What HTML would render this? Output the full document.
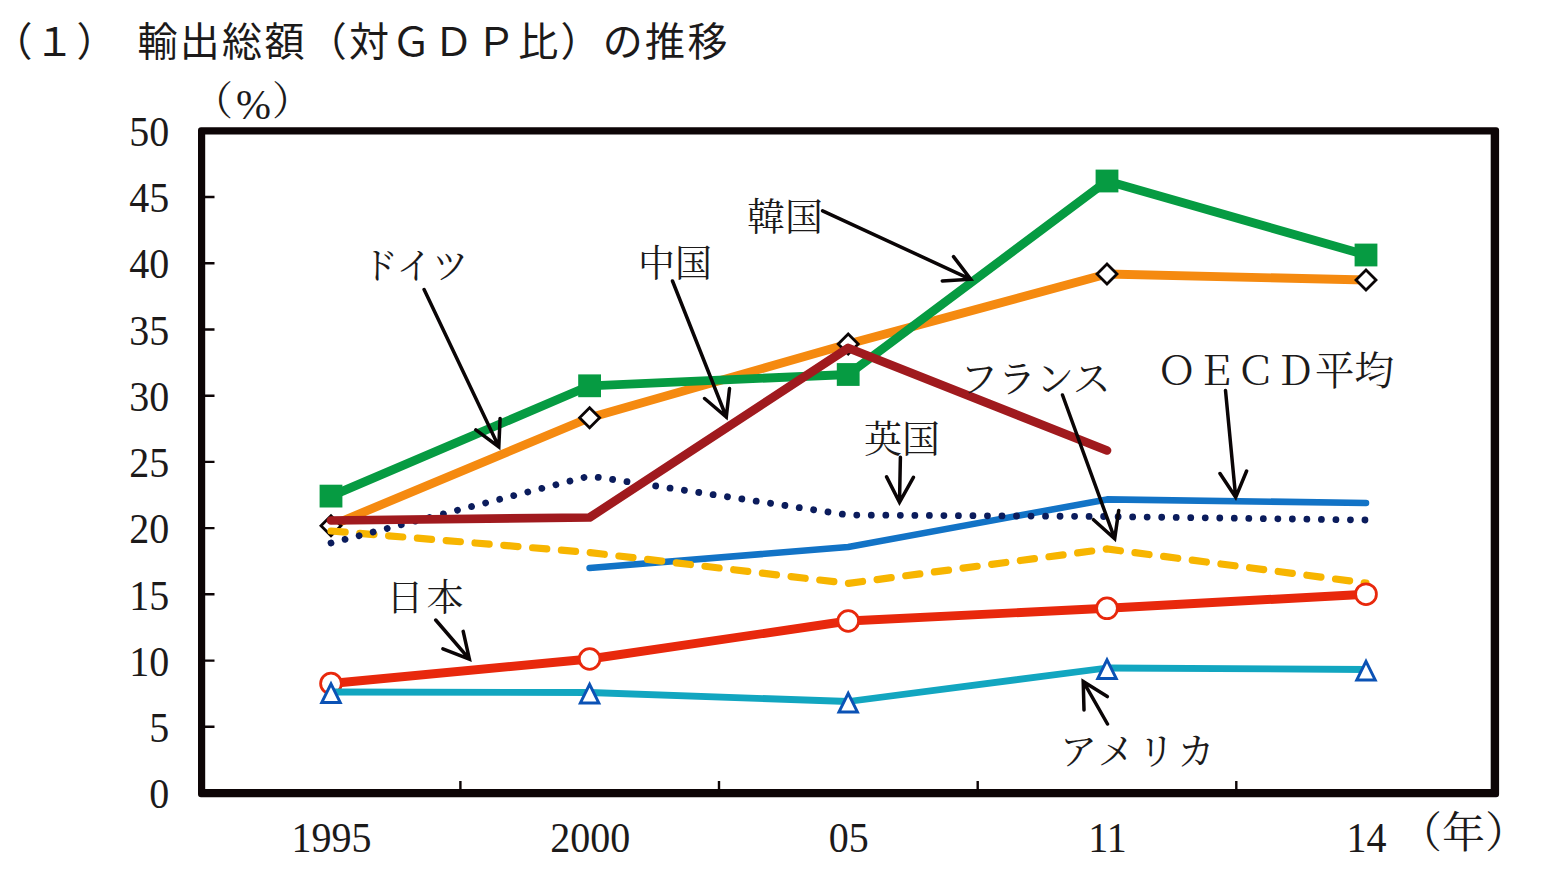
<!DOCTYPE html>
<html lang="ja"><head><meta charset="utf-8"><title>chart</title>
<style>
html,body{margin:0;padding:0;background:#fff;}
body{width:1544px;height:871px;overflow:hidden;}
svg{display:block}
text{font-family:"Liberation Serif",serif;font-size:40px;fill:#1c1a1a;letter-spacing:0}
text.ttl{font-family:"Liberation Sans","Noto Sans CJK JP",sans-serif;font-size:40px;fill:#1c1a1a}
text.lbl{font-family:"Liberation Serif","Noto Serif CJK SC",serif;fill:#1c1a1a}
</style></head><body>
<svg width="1544" height="871" viewBox="0 0 1544 871">
<title>（１）　輸出総額（対ＧＤＰ比）の推移</title>
<desc>輸出総額の対GDP比（％）の推移、1995年・2000年・05年・11年・14年。系列：韓国、ドイツ、中国、英国、OECD平均、フランス、日本、アメリカ。</desc>
<rect width="1544" height="871" fill="#fff"/>
<text class="ttl" x="-7.5" y="56" style="letter-spacing:2px">（１）</text>
<text class="ttl" x="137.5" y="56" style="letter-spacing:2.3px">輸出総額（対ＧＤＰ比）の推移</text>
<g><text transform="translate(169.3 808.2) scale(1 1.07)" text-anchor="end">0</text><text transform="translate(169.3 742.0) scale(1 1.07)" text-anchor="end">5</text><text transform="translate(169.3 675.8) scale(1 1.07)" text-anchor="end">10</text><text transform="translate(169.3 609.5) scale(1 1.07)" text-anchor="end">15</text><text transform="translate(169.3 543.3) scale(1 1.07)" text-anchor="end">20</text><text transform="translate(169.3 477.1) scale(1 1.07)" text-anchor="end">25</text><text transform="translate(169.3 410.9) scale(1 1.07)" text-anchor="end">30</text><text transform="translate(169.3 344.7) scale(1 1.07)" text-anchor="end">35</text><text transform="translate(169.3 278.4) scale(1 1.07)" text-anchor="end">40</text><text transform="translate(169.3 212.2) scale(1 1.07)" text-anchor="end">45</text><text transform="translate(169.3 146.0) scale(1 1.07)" text-anchor="end">50</text><text transform="translate(331.6 851.6) scale(1 1.07)" text-anchor="middle">1995</text><text transform="translate(590.2 851.6) scale(1 1.07)" text-anchor="middle">2000</text><text transform="translate(848.8 851.6) scale(1 1.07)" text-anchor="middle">05</text><text transform="translate(1107.6 851.6) scale(1 1.07)" text-anchor="middle">11</text><text transform="translate(1366.6 851.6) scale(1 1.07)" text-anchor="middle">14</text></g>
<path fill-rule="evenodd" fill="#0d0506" d="M201 127.2H1496.1a3 3 0 0 1 3 3V794.3a3 3 0 0 1 -3 3H201a3 3 0 0 1 -3 -3V130.2a3 3 0 0 1 3 -3ZM205.2 134.4V789H1490.7V134.4Z"/>
<path d="M201.7 726.8H214.5M201.7 660.6H214.5M201.7 594.3H214.5M201.7 528.1H214.5M201.7 461.9H214.5M201.7 395.7H214.5M201.7 329.5H214.5M201.7 263.2H214.5M201.7 197.0H214.5M460.4 793.0V781M719.0 793.0V781M977.7 793.0V781M1236.3 793.0V781" stroke="#0d0506" stroke-width="2.4" fill="none"/>
<path d="M331.0 525.7 L589.6 417.7 L848.2 344.0 L1107.0 274.0 L1366.0 280.0" fill="none" stroke="#f58a10" stroke-width="8.8" stroke-linecap="round" stroke-linejoin="round"/>
<path d="M321.0 525.7L331.0 515.7L341.0 525.7L331.0 535.7Z" fill="#fff" stroke="#0a0506" stroke-width="2.8" stroke-linejoin="miter"/>
<path d="M579.6 417.7L589.6 407.7L599.6 417.7L589.6 427.7Z" fill="#fff" stroke="#0a0506" stroke-width="2.8" stroke-linejoin="miter"/>
<path d="M838.2 344.0L848.2 334.0L858.2 344.0L848.2 354.0Z" fill="#fff" stroke="#0a0506" stroke-width="2.8" stroke-linejoin="miter"/>
<path d="M1097.0 274.0L1107.0 264.0L1117.0 274.0L1107.0 284.0Z" fill="#fff" stroke="#0a0506" stroke-width="2.8" stroke-linejoin="miter"/>
<path d="M1356.0 280.0L1366.0 270.0L1376.0 280.0L1366.0 290.0Z" fill="#fff" stroke="#0a0506" stroke-width="2.8" stroke-linejoin="miter"/>
<path d="M331.0 496.1 L589.6 385.8 L848.2 374.5 L1107.0 181.0 L1366.0 255.0" fill="none" stroke="#069b42" stroke-width="8.8" stroke-linecap="round" stroke-linejoin="round"/>
<rect x="319.6" y="484.7" width="22.8" height="22.8" fill="#069b42"/>
<rect x="578.2" y="374.4" width="22.8" height="22.8" fill="#069b42"/>
<rect x="836.8" y="363.1" width="22.8" height="22.8" fill="#069b42"/>
<rect x="1095.6" y="169.6" width="22.8" height="22.8" fill="#069b42"/>
<rect x="1354.6" y="243.6" width="22.8" height="22.8" fill="#069b42"/>
<path d="M589.6 568.0 L848.2 547.0 L1107.0 499.4 L1366.0 503.0" fill="none" stroke="#1273c6" stroke-width="6.6" stroke-linecap="round" stroke-linejoin="round"/>
<path d="M331.0 531.0 L589.6 552.5 L848.2 583.4 L1107.0 549.0 L1366.0 583.0" fill="none" stroke="#f7b500" stroke-width="7.2" stroke-linecap="round" stroke-dasharray="14.2 14.7"/>
<path d="M331.0 543.0 L589.6 476.0 L848.2 515.0 L1107.0 516.5 L1366.0 520.0" fill="none" stroke="#0b1c5c" stroke-width="6.8" stroke-linecap="round" stroke-dasharray="0.01 14.51"/>
<path d="M331.0 520.5 L589.6 517.5 L848.2 348.0 L1107.0 450.5" fill="none" stroke="#a01a1e" stroke-width="8.7" stroke-linecap="round" stroke-linejoin="round"/>
<path d="M331.0 683.5 L589.6 659.0 L848.2 621.0 L1107.0 608.3 L1366.0 594.2" fill="none" stroke="#e8280c" stroke-width="8.9" stroke-linecap="round" stroke-linejoin="round"/>
<circle cx="331.0" cy="683.5" r="10.4" fill="#fff" stroke="#e8280c" stroke-width="2.8"/>
<circle cx="589.6" cy="659.0" r="10.4" fill="#fff" stroke="#e8280c" stroke-width="2.8"/>
<circle cx="848.2" cy="621.0" r="10.4" fill="#fff" stroke="#e8280c" stroke-width="2.8"/>
<circle cx="1107.0" cy="608.3" r="10.4" fill="#fff" stroke="#e8280c" stroke-width="2.8"/>
<circle cx="1366.0" cy="594.2" r="10.4" fill="#fff" stroke="#e8280c" stroke-width="2.8"/>
<path d="M331.0 692.0 L589.6 692.5 L848.2 701.5 L1107.0 668.0 L1366.0 669.5" fill="none" stroke="#12a6c0" stroke-width="6.8" stroke-linecap="round" stroke-linejoin="round"/>
<path d="M331.0 683.8L340.2 702.4L321.8 702.4Z" fill="#fff" stroke="#0b52b5" stroke-width="3" stroke-linejoin="miter"/>
<path d="M589.6 684.3L598.8 702.9L580.4 702.9Z" fill="#fff" stroke="#0b52b5" stroke-width="3" stroke-linejoin="miter"/>
<path d="M848.2 693.3L857.4 711.9L839.0 711.9Z" fill="#fff" stroke="#0b52b5" stroke-width="3" stroke-linejoin="miter"/>
<path d="M1107.0 659.8L1116.2 678.4L1097.8 678.4Z" fill="#fff" stroke="#0b52b5" stroke-width="3" stroke-linejoin="miter"/>
<path d="M1366.0 661.3L1375.2 679.9L1356.8 679.9Z" fill="#fff" stroke="#0b52b5" stroke-width="3" stroke-linejoin="miter"/>
<path d="M424.1 289.5L498.8 446.8M475.9 429.8L498.8 446.8L500.1 418.4M672.5 281.0L726.3 417.0M704.6 398.5L726.3 417.0L729.5 388.6M822.6 210.8L970.7 279.3M942.3 280.9L970.7 279.3L953.5 256.6M1062.5 395.0L1114.7 538.7M1093.5 519.7L1114.7 538.7L1118.7 510.5M1225.5 390.4L1235.7 497.3M1220.0 473.5L1235.7 497.3L1246.6 471.0M900.4 457.2L899.5 502.3M886.6 476.9L899.5 502.3L913.4 477.4M435.7 620.0L469.4 659.2M442.9 648.8L469.4 659.2L463.2 631.4M1107.5 724.0L1083.2 681.4M1107.3 696.6L1083.2 681.4L1084.0 709.9" fill="none" stroke="#0a0506" stroke-width="3.5" stroke-linecap="round" stroke-linejoin="miter"/>
<text class="lbl" x="362" y="279" style="font-size:36px">ドイツ</text>
<text class="lbl" x="638" y="277" style="font-size:37px">中国</text>
<text class="lbl" x="747" y="230" style="font-size:38px">韓国</text>
<text class="lbl" x="960" y="392" style="font-size:38px">フランス</text>
<text class="lbl" x="1157" y="385" style="font-size:39.5px">ＯＥＣＤ平均</text>
<text class="lbl" x="864" y="452" style="font-size:38px">英国</text>
<text class="lbl" x="386.5" y="611" style="font-size:37px;letter-spacing:3px">日本</text>
<text class="lbl" x="1060" y="765" style="font-size:37px;letter-spacing:3px">アメリカ</text>
<text class="lbl" x="1399" y="848" style="font-size:43px">（年）</text>
<text class="lbl" x="193" y="115" style="font-size:40px">（</text>
<text class="lbl" x="236" y="119" style="font-size:42px">%</text>
<text class="lbl" x="272" y="115" style="font-size:40px">）</text>
</svg>
</body></html>
